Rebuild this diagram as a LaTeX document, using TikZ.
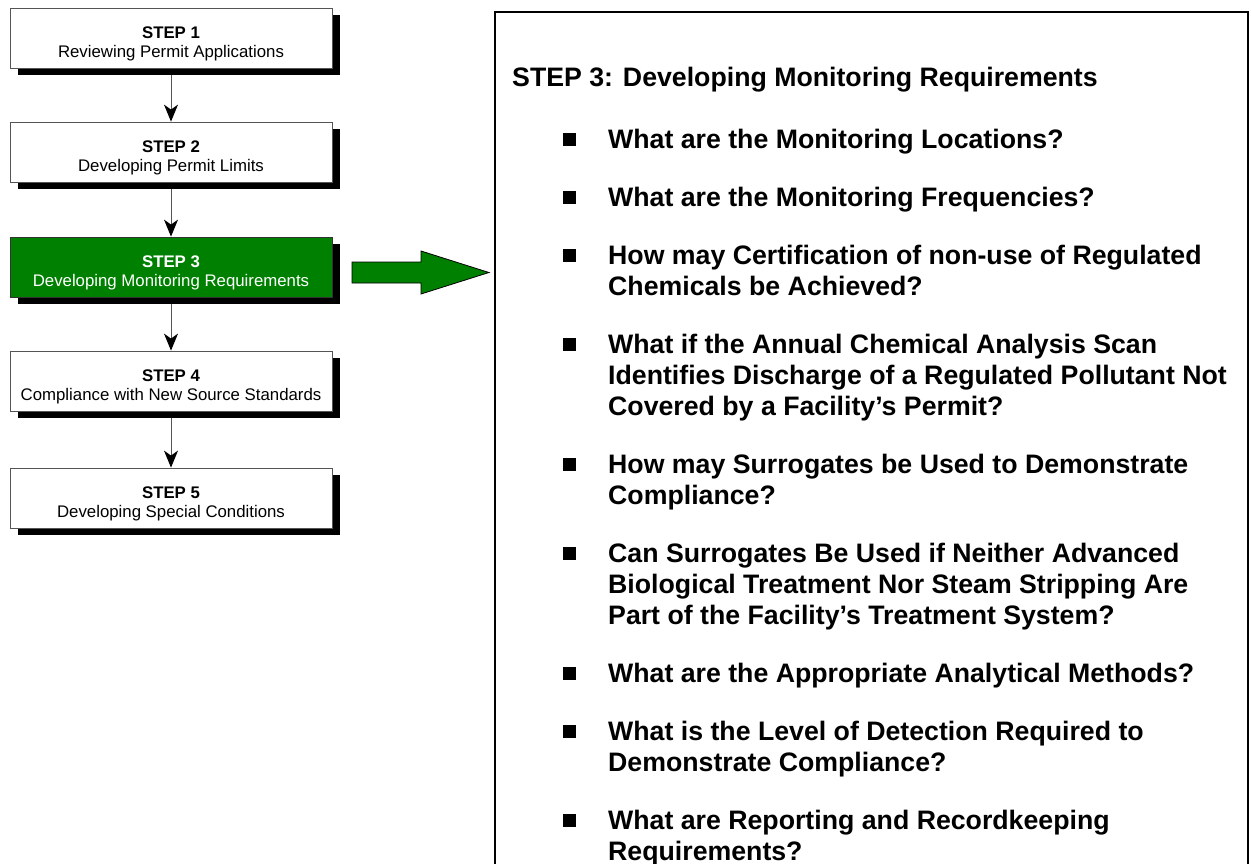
\documentclass[tikz,border=0pt]{standalone}
\usepackage{fontspec}
\setmainfont{Liberation Sans}
\usetikzlibrary{arrows.meta,shadows}
\definecolor{stepgreen}{RGB}{0,128,0}
\definecolor{boxgray}{RGB}{85,85,85}
\begin{document}
\begin{tikzpicture}[x=1pt,y=-1pt,
  stepbox/.style={draw=boxgray, line width=0.8pt, fill=white, minimum width=322pt, minimum height=60pt, inner sep=0pt,
    drop shadow={shadow xshift=8pt, shadow yshift=-7pt, fill=black, opacity=1}},
  steptitle/.style={anchor=base, inner sep=0pt, font=\fontsize{16.8}{19}\selectfont\bfseries},
  stepsub/.style={anchor=base, inner sep=0pt, font=\fontsize{16.8}{19}\selectfont},
  flow/.style={draw=boxgray, line width=1pt, -{Stealth[length=17pt,width=14pt,inset=5pt,color=black,fill=black]}},
  itemline/.style={anchor=base west, inner sep=0pt, font=\fontsize{26.7}{31}\selectfont\bfseries},
  bulletsq/.style={fill=black, minimum size=13pt, inner sep=0pt}]
\useasboundingbox (0,0) rectangle (1251,863);
\fill[white] (0,0) rectangle (1251,863);

% step boxes
\node[stepbox] (s1) at (171,38) {};
\node[stepbox] (s2) at (171,152) {};
\node[stepbox, fill=stepgreen, draw=black!80] (s3) at (171,267) {};
\node[stepbox] (s4) at (171,381) {};
\node[stepbox] (s5) at (171,498) {};

\node[steptitle] (t1a) at ([yshift=-0.5pt]s1.center) {STEP 1};
\node[stepsub]   (t1b) at ([yshift=-19pt]s1.center) {Reviewing Permit Applications};
\node[steptitle] (t2a) at ([yshift=-0.5pt]s2.center) {STEP 2};
\node[stepsub]   (t2b) at ([yshift=-19pt]s2.center) {Developing Permit Limits};
\node[steptitle, text=white] (t3a) at ([yshift=-0.5pt]s3.center) {STEP 3};
\node[stepsub, text=white]   (t3b) at ([yshift=-19pt]s3.center) {Developing Monitoring Requirements};
\node[steptitle] (t4a) at ([yshift=-0.5pt]s4.center) {STEP 4};
\node[stepsub]   (t4b) at ([yshift=-19pt]s4.center) {Compliance with New Source Standards};
\node[steptitle] (t5a) at ([yshift=-0.5pt]s5.center) {STEP 5};
\node[stepsub]   (t5b) at ([yshift=-19pt]s5.center) {Developing Special Conditions};

% flow arrows
\draw[flow] ([yshift=-7pt]s1.south) -- (s2.north);
\draw[flow] ([yshift=-7pt]s2.south) -- (s3.north);
\draw[flow] ([yshift=-7pt]s3.south) -- (s4.north);
\draw[flow] ([yshift=-7pt]s4.south) -- (s5.north);

% big block arrow
\draw[fill=stepgreen, draw=black, line width=0.8pt]
  (352,262) -- (421,262) -- (421,251) -- (489,272.5) -- (421,294) -- (421,283) -- (352,283) -- cycle;

% detail panel
\coordinate (pbl) at (495,880);
\coordinate (ptl) at (495,12);
\coordinate (ptr) at (1248,12);
\coordinate (pbr) at (1248,880);
\draw[line width=2.5pt] (pbl) -- (ptl) -- (ptr) -- (pbr);

\node[itemline] (title) at (512,86) {STEP 3: Developing Monitoring Requirements};

\node[itemline] (i1) at (608,148) {What are the Monitoring Locations?};
\node[itemline] (i2) at (608,206) {What are the Monitoring Frequencies?};
\node[itemline] (i3a) at (608,264) {How may Certification of non-use of Regulated};
\node[itemline] (i3b) at (608,295) {Chemicals be Achieved?};
\node[itemline] (i4a) at (608,353) {What if the Annual Chemical Analysis Scan};
\node[itemline] (i4b) at (608,384) {Identifies Discharge of a Regulated Pollutant Not};
\node[itemline] (i4c) at (608,415) {Covered by a Facility’s Permit?};
\node[itemline] (i5a) at (608,473) {How may Surrogates be Used to Demonstrate};
\node[itemline] (i5b) at (608,504) {Compliance?};
\node[itemline] (i6a) at (608,562) {Can Surrogates Be Used if Neither Advanced};
\node[itemline] (i6b) at (608,593) {Biological Treatment Nor Steam Stripping Are};
\node[itemline] (i6c) at (608,624) {Part of the Facility’s Treatment System?};
\node[itemline] (i7) at (608,682) {What are the Appropriate Analytical Methods?};
\node[itemline] (i8a) at (608,740) {What is the Level of Detection Required to};
\node[itemline] (i8b) at (608,771) {Demonstrate Compliance?};
\node[itemline] (i9a) at (608,829) {What are Reporting and Recordkeeping};
\node[itemline] (i9b) at (608,860) {Requirements?};

\foreach \n/\y in {b1/148,b2/206,b3/264,b4/353,b5/473,b6/562,b7/682,b8/740,b9/829}
  \node[bulletsq] (\n) at (569,\y-8.5) {};
\end{tikzpicture}
\end{document}
